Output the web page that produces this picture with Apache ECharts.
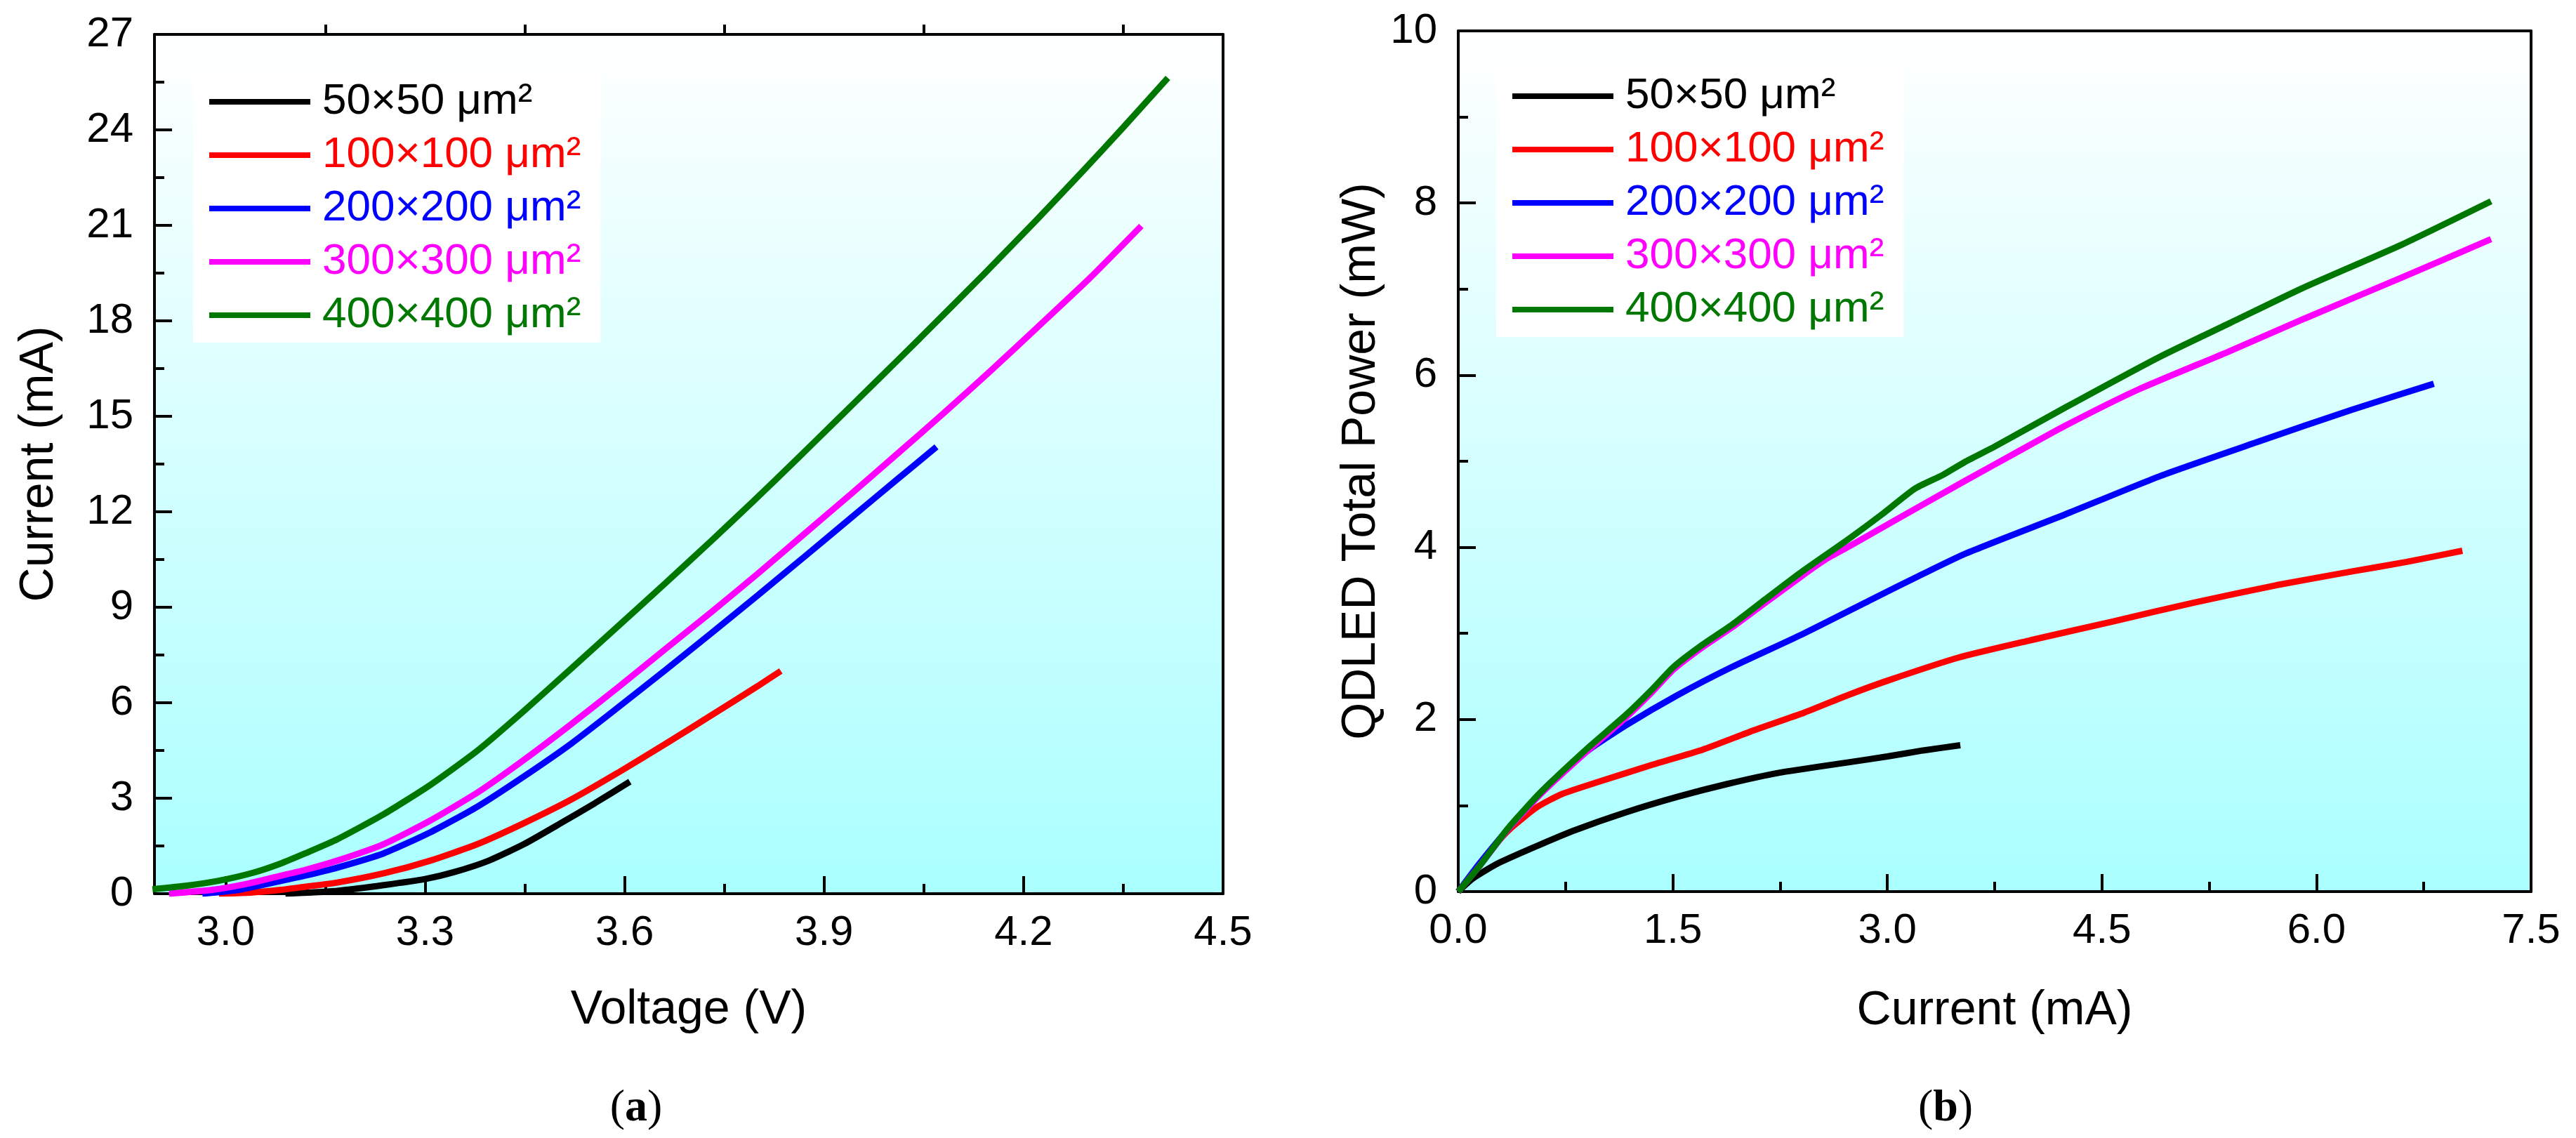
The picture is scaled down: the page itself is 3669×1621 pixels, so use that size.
<!DOCTYPE html>
<html>
<head>
<meta charset="utf-8">
<title>QDLED</title>
<script src="https://cdn.jsdelivr.net/npm/echarts@6/dist/echarts.min.js"></script>
<style>
html,body{margin:0;padding:0;background:#ffffff;}
#chart{width:3669px;height:1621px;}
</style>
</head>
<body>
<div id="chart"></div>
<script>
// 图例名称 / 颜色
var seriesNames = ['50×50 μm²', '100×100 μm²', '200×200 μm²', '300×300 μm²', '400×400 μm²'];
var seriesColors = ['#000000', '#ff0000', '#0000ff', '#ff00ff', '#007700'];

// (a) I-V
var ivVolt50  = [3.09, 3.13, 3.168, 3.238, 3.30, 3.344, 3.396, 3.449, 3.502, 3.555, 3.608];
var ivCurr50  = [0.00, 0.04, 0.09, 0.27, 0.46, 0.68, 1.04, 1.56, 2.19, 2.84, 3.52];
var ivVolt100 = [2.99, 3.04, 3.083, 3.12, 3.168, 3.238, 3.308, 3.379, 3.449, 3.52, 3.59, 3.661, 3.73, 3.80, 3.835];
var ivCurr100 = [0.00, 0.04, 0.12, 0.22, 0.35, 0.64, 1.04, 1.56, 2.22, 2.96, 3.80, 4.70, 5.60, 6.52, 7.00];
var ivVolt200 = [2.965, 3.02, 3.083, 3.12, 3.168, 3.238, 3.308, 3.379, 3.449, 3.52, 3.59, 3.661, 3.73, 3.80, 3.87, 3.94, 4.01, 4.069];
var ivCurr200 = [0.00, 0.12, 0.40, 0.57, 0.82, 1.27, 1.93, 2.74, 3.69, 4.72, 5.85, 7.02, 8.18, 9.37, 10.58, 11.80, 13.02, 14.04];
var ivVolt300 = [2.915, 2.98, 3.03, 3.08, 3.12, 3.168, 3.238, 3.308, 3.379, 3.449, 3.52, 3.59, 3.661, 3.73, 3.80, 3.87, 3.94, 4.01, 4.08, 4.15, 4.22, 4.30, 4.377];
var ivCurr300 = [0.00, 0.12, 0.30, 0.55, 0.75, 1.04, 1.56, 2.30, 3.18, 4.21, 5.33, 6.48, 7.68, 8.84, 10.05, 11.30, 12.55, 13.82, 15.10, 16.42, 17.78, 19.35, 20.98];
var ivVolt400 = [2.89, 2.94, 2.988, 3.04, 3.083, 3.12, 3.168, 3.238, 3.308, 3.379, 3.449, 3.52, 3.59, 3.661, 3.73, 3.793, 3.86, 3.919, 3.98, 4.044, 4.141, 4.22, 4.289, 4.35, 4.417];
var ivCurr400 = [0.14, 0.25, 0.40, 0.65, 0.95, 1.27, 1.71, 2.50, 3.42, 4.50, 5.75, 7.08, 8.40, 9.75, 11.08, 12.32, 13.67, 14.88, 16.13, 17.45, 19.48, 21.18, 22.70, 24.08, 25.63];

// (b) P-I
var liCurr50  = [0, 0.10, 0.28, 0.55, 0.81, 1.17, 1.53, 1.88, 2.24, 2.72, 3.00, 3.25, 3.51];
var liPow50   = [0, 0.15, 0.33, 0.53, 0.71, 0.92, 1.10, 1.25, 1.38, 1.50, 1.57, 1.64, 1.70];
var liCurr100 = [0, 0.10, 0.22, 0.37, 0.55, 0.72, 0.99, 1.35, 1.71, 2.06, 2.42, 2.72, 3.00, 3.50, 4.00, 4.58, 5.15, 5.72, 6.25, 6.63, 7.02];
var liPow100  = [0, 0.21, 0.47, 0.74, 0.98, 1.13, 1.28, 1.47, 1.65, 1.87, 2.08, 2.28, 2.45, 2.72, 2.92, 3.14, 3.36, 3.56, 3.72, 3.83, 3.96];
var liCurr200 = [0, 0.15, 0.37, 0.63, 0.90, 1.17, 1.53, 1.914, 2.405, 2.896, 3.224, 3.551, 4.24, 4.91, 5.58, 6.25, 6.82];
var liPow200  = [0, 0.33, 0.77, 1.24, 1.63, 1.93, 2.28, 2.61, 2.99, 3.40, 3.67, 3.93, 4.38, 4.83, 5.22, 5.60, 5.90];
var liCurr300 = [0, 0.15, 0.35, 0.58, 0.90, 1.17, 1.35, 1.505, 1.70, 1.914, 2.15, 2.405, 2.569, 2.732, 3.06, 3.551, 3.90, 4.24, 4.75, 5.38, 5.92, 6.59, 7.22];
var liPow300  = [0, 0.30, 0.73, 1.14, 1.63, 2.02, 2.31, 2.58, 2.83, 3.07, 3.36, 3.67, 3.86, 4.01, 4.32, 4.78, 5.10, 5.41, 5.83, 6.27, 6.66, 7.13, 7.58];
var liCurr400 = [0, 0.15, 0.35, 0.58, 0.90, 1.17, 1.35, 1.505, 1.70, 1.914, 2.15, 2.405, 2.732, 2.96, 3.191, 3.387, 3.551, 3.75, 4.25, 4.90, 5.40, 5.90, 6.60, 7.22];
var liPow400  = [0, 0.30, 0.74, 1.16, 1.66, 2.05, 2.34, 2.61, 2.86, 3.10, 3.40, 3.72, 4.10, 4.38, 4.68, 4.84, 5.00, 5.17, 5.63, 6.21, 6.61, 7.01, 7.52, 8.02];

// 刻度
var voltTicks = [3.0, 3.3, 3.6, 3.9, 4.2, 4.5];
var voltMinorTicks = [3.15, 3.45, 3.75, 4.05, 4.35];

;(function(){
    var FONT = '"Liberation Sans", Arial, sans-serif';
    var SERIF = '"Liberation Serif", "Times New Roman", serif';
    var ivX = [ivVolt50, ivVolt100, ivVolt200, ivVolt300, ivVolt400];
    var ivY = [ivCurr50, ivCurr100, ivCurr200, ivCurr300, ivCurr400];
    var liX = [liCurr50, liCurr100, liCurr200, liCurr300, liCurr400];
    var liY = [liPow50, liPow100, liPow200, liPow300, liPow400];

    function zip(xs, ys) {
        var out = [];
        for (var i = 0; i < xs.length; i++) {
            out.push([xs[i], ys[i]]);
        }
        return out;
    }
    function bg() {
        return new echarts.graphic.LinearGradient(0, 0, 0, 1, [
            {offset: 0, color: '#ffffff'},
            {offset: 1, color: '#aaffff'}
        ]);
    }
    function legendData() {
        var arr = [];
        for (var i = 0; i < seriesNames.length; i++) {
            arr.push({name: seriesNames[i], textStyle: {color: seriesColors[i]}});
        }
        return arr;
    }
    function makeLegend(left, top) {
        return {
            left: left, top: top,
            orient: 'vertical',
            icon: 'rect',
            itemWidth: 144, itemHeight: 8,
            itemGap: 14,
            padding: [10, 28, 8, 23],
            backgroundColor: '#ffffff',
            selectedMode: false,
            formatter: function (n) { return '{t|' + n + '}'; },
            textStyle: {fontFamily: FONT, fontSize: 62, lineHeight: 62,
                rich: {t: {padding: [0, 0, 0, 12]}}},
            data: legendData()
        };
    }
    function panelLabel(letter, x) {
        return {
            text: '({b|' + letter + '})', left: x, top: 1542, textAlign: 'center',
            textStyle: {fontFamily: SERIF, fontSize: 64, fontWeight: 'normal', color: '#000',
                rich: {b: {fontFamily: SERIF, fontSize: 64, fontWeight: 'bold', color: '#000'}}}
        };
    }
    var nameTxt = {fontFamily: FONT, fontSize: 68, color: '#000'};
    var axLine = {show: true, onZero: false, lineStyle: {color: '#000', width: 4}};
    var tickStyle = {color: '#000', width: 4};
    var plain = {
        axisLine: axLine, axisTick: {show: false}, axisLabel: {show: false},
        splitLine: {show: false}
    };

    var series = [];
    for (var i = 0; i < seriesNames.length; i++) {
        series.push({
            name: seriesNames[i], type: 'line', xAxisIndex: 0, yAxisIndex: 0,
            showSymbol: false, smooth: 0.2, color: seriesColors[i],
            lineStyle: {width: 9, color: seriesColors[i]},
            data: zip(ivX[i], ivY[i]), z: 3 + i
        });
    }
    for (var j = 0; j < seriesNames.length; j++) {
        series.push({
            name: seriesNames[j], type: 'line', xAxisIndex: 3, yAxisIndex: 2,
            showSymbol: false, smooth: 0.2, color: seriesColors[j],
            lineStyle: {width: 9, color: seriesColors[j]},
            data: zip(liX[j], liY[j]), z: 3 + j
        });
    }

    var option = {
        animation: false,
        backgroundColor: '#ffffff',
        title: [panelLabel('a', 901), panelLabel('b', 2766)],
        legend: [makeLegend(275, 104), makeLegend(2131, 96)],
        grid: [
            {left: 220, top: 49, width: 1522, height: 1224, show: true, backgroundColor: bg(), borderWidth: 0},
            {left: 2077, top: 44, width: 1528, height: 1226, show: true, backgroundColor: bg(), borderWidth: 0}
        ],
        xAxis: [
            {   // (a) 底部主刻度
                type: 'value', gridIndex: 0, position: 'bottom', min: 2.893, max: 4.5,
                name: 'Voltage (V)', nameLocation: 'middle', nameGap: 132, nameTextStyle: nameTxt,
                axisLine: axLine,
                axisTick: {show: true, inside: true, length: 25, customValues: voltTicks, lineStyle: tickStyle},
                axisLabel: {show: true, margin: 26, customValues: voltTicks,
                    fontFamily: FONT, fontSize: 60, color: '#000',
                    formatter: function (v) { return v.toFixed(1); }},
                splitLine: {show: false}
            },
            {   // (a) 底部次刻度
                type: 'value', gridIndex: 0, position: 'bottom', min: 2.893, max: 4.5,
                axisLine: {show: false},
                axisTick: {show: true, inside: true, length: 14, customValues: voltMinorTicks, lineStyle: tickStyle},
                axisLabel: {show: false}, splitLine: {show: false}
            },
            {   // (a) 顶部
                type: 'value', gridIndex: 0, position: 'top', min: 2.893, max: 4.5,
                axisLine: axLine,
                axisTick: {show: true, inside: false, length: 14, customValues: voltMinorTicks, lineStyle: tickStyle},
                axisLabel: {show: false}, splitLine: {show: false}
            },
            {   // (b) 底部
                type: 'value', gridIndex: 1, position: 'bottom', min: 0, max: 7.5, interval: 1.5,
                name: 'Current (mA)', nameLocation: 'middle', nameGap: 136, nameTextStyle: nameTxt,
                axisLine: axLine,
                axisTick: {show: true, inside: true, length: 25, lineStyle: tickStyle},
                minorTick: {show: true, splitNumber: 2, length: 14, lineStyle: tickStyle},
                axisLabel: {show: true, margin: 26, fontFamily: FONT, fontSize: 60, color: '#000',
                    formatter: function (v) { return v.toFixed(1); }},
                splitLine: {show: false}, minorSplitLine: {show: false}
            },
            echarts.util.extend({type: 'value', gridIndex: 1, position: 'top', min: 0, max: 7.5}, plain)
        ],
        yAxis: [
            {   // (a) 左
                type: 'value', gridIndex: 0, position: 'left', min: 0, max: 27, interval: 3,
                name: 'Current (mA)', nameLocation: 'middle', nameGap: 130, nameTextStyle: nameTxt,
                axisLine: axLine,
                axisTick: {show: true, inside: true, length: 25, lineStyle: tickStyle},
                minorTick: {show: true, splitNumber: 2, length: 14, lineStyle: tickStyle},
                axisLabel: {show: true, margin: 30, fontFamily: FONT, fontSize: 60, color: '#000'},
                splitLine: {show: false}, minorSplitLine: {show: false}
            },
            echarts.util.extend({type: 'value', gridIndex: 0, position: 'right', min: 0, max: 27}, plain),
            {   // (b) 左
                type: 'value', gridIndex: 1, position: 'left', min: 0, max: 10, interval: 2,
                name: 'QDLED Total Power (mW)', nameLocation: 'middle', nameGap: 104, nameTextStyle: nameTxt,
                axisLine: axLine,
                axisTick: {show: true, inside: true, length: 25, lineStyle: tickStyle},
                minorTick: {show: true, splitNumber: 2, length: 14, lineStyle: tickStyle},
                axisLabel: {show: true, margin: 30, fontFamily: FONT, fontSize: 60, color: '#000'},
                splitLine: {show: false}, minorSplitLine: {show: false}
            },
            echarts.util.extend({type: 'value', gridIndex: 1, position: 'right', min: 0, max: 10}, plain)
        ],
        series: series
    };

    var myChart = echarts.init(document.getElementById('chart'));
    myChart.setOption(option);
}());
</script>
</body>
</html>
